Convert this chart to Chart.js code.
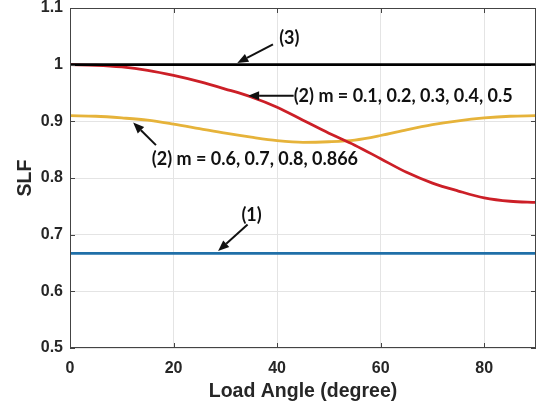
<!DOCTYPE html>
<html>
<head>
<meta charset="utf-8">
<script src="https://cdn.jsdelivr.net/npm/chart.js@4.4.0/dist/chart.umd.min.js"></script>
<style>
  html, body { margin: 0; padding: 0; background: #fff; }
  #wrap { width: 537px; height: 406px; }
</style>
</head>
<body>
<div id="wrap"><canvas id="c"></canvas></div>
<script>
// load angle (degree)
const angles = [0, 5, 10, 15, 20, 25, 30, 35, 40, 45, 50, 55, 60, 65, 70, 75, 80, 85, 90];
// SLF values
const slfCase3 = [1, 1, 1, 1, 1, 1, 1, 1, 1, 1, 1, 1, 1, 1, 1, 1, 1, 1, 1];
const slfLowM = [1.000, 0.999, 0.996, 0.990, 0.981, 0.970, 0.957, 0.943, 0.925, 0.902, 0.879, 0.858, 0.834, 0.810, 0.791, 0.777, 0.765, 0.759, 0.757];
const slfHighM = [0.910, 0.909, 0.906, 0.902, 0.895, 0.887, 0.879, 0.872, 0.866, 0.863, 0.864, 0.867, 0.875, 0.885, 0.894, 0.901, 0.906, 0.909, 0.910];
const slfCase1 = [0.667, 0.667, 0.667, 0.667, 0.667, 0.667, 0.667, 0.667, 0.667, 0.667, 0.667, 0.667, 0.667, 0.667, 0.667, 0.667, 0.667, 0.667, 0.667];

const xTicks = [0, 20, 40, 60, 80];
const yTicks = [0.5, 0.6, 0.7, 0.8, 0.9, 1, 1.1];

// labels with arrows, in data units: text at (tx,ty), arrow from (ax,ay) to tip (bx,by)
const notes = [
  { text: '(3)', tx: 40.4, ty: 1.047, ax: 39.2, ay: 1.036, bx: 32.3, by: 1.003 },
  { text: '(2) m = 0.1, 0.2, 0.3, 0.4, 0.5', tx: 43.2, ty: 0.944, ax: 43.2, ay: 0.945, bx: 34.4, by: 0.945 },
  { text: '(2) m = 0.6, 0.7, 0.8, 0.866', tx: 15.8, ty: 0.833, ax: 16.6, ay: 0.858, bx: 12.2, by: 0.898 },
  { text: '(1)', tx: 33.1, ty: 0.735, ax: 34.3, ay: 0.718, bx: 28.6, by: 0.671 }
];

const pts = arr => angles.map((a, i) => ({ x: a, y: arr[i] }));

const boxPlugin = {
  id: 'box',
  afterDatasetsDraw(chart) {
    const { ctx, chartArea: a, scales: { x, y } } = chart;
    ctx.save();
    ctx.strokeStyle = '#444';
    ctx.lineWidth = 1;
    ctx.strokeRect(a.left + 0.5, a.top + 0.5, a.right - a.left - 1, a.bottom - a.top - 1);
    // inward ticks like matlab
    ctx.beginPath();
    xTicks.forEach(v => {
      const px = Math.round(x.getPixelForValue(v)) + 0.5;
      ctx.moveTo(px, a.bottom); ctx.lineTo(px, a.bottom - 5);
      ctx.moveTo(px, a.top); ctx.lineTo(px, a.top + 5);
    });
    yTicks.forEach(v => {
      const py = Math.round(y.getPixelForValue(v)) + 0.5;
      ctx.moveTo(a.left, py); ctx.lineTo(a.left + 5, py);
      ctx.moveTo(a.right, py); ctx.lineTo(a.right - 5, py);
    });
    ctx.stroke();

    // annotations
    ctx.fillStyle = '#111';
    ctx.strokeStyle = '#111';
    ctx.font = 'bold 18px Lato, "Open Sans", sans-serif';
    ctx.textBaseline = 'middle';
    ctx.textAlign = 'left';
    notes.forEach(n => {
      ctx.fillText(n.text, x.getPixelForValue(n.tx), y.getPixelForValue(n.ty));
      const x0 = x.getPixelForValue(n.ax), y0 = y.getPixelForValue(n.ay);
      const x1 = x.getPixelForValue(n.bx), y1 = y.getPixelForValue(n.by);
      const ang = Math.atan2(y1 - y0, x1 - x0);
      const hl = 11, hw = 4.5;
      const bxp = x1 - hl * Math.cos(ang), byp = y1 - hl * Math.sin(ang);
      ctx.lineWidth = 2;
      ctx.beginPath();
      ctx.moveTo(x0, y0); ctx.lineTo(bxp, byp);
      ctx.stroke();
      ctx.beginPath();
      ctx.moveTo(x1, y1);
      ctx.lineTo(bxp + hw * Math.sin(ang), byp - hw * Math.cos(ang));
      ctx.lineTo(bxp - hw * Math.sin(ang), byp + hw * Math.cos(ang));
      ctx.closePath();
      ctx.fill();
    });
    ctx.restore();
  }
};

const tickFont = { family: '"Liberation Sans", Arial, sans-serif', size: 16, weight: 'bold' };
const titleFont = { family: '"Liberation Sans", Arial, sans-serif', size: 19.5, weight: 'bold' };

new Chart(document.getElementById('c'), {
  type: 'line',
  data: {
    datasets: [
      { data: pts(slfCase3), borderColor: '#000000', borderWidth: 2.8 },
      { data: pts(slfLowM), borderColor: '#cc1f27', borderWidth: 2.8 },
      { data: pts(slfHighM), borderColor: '#e6b33a', borderWidth: 2.8 },
      { data: pts(slfCase1), borderColor: '#1f6fa8', borderWidth: 2.8 }
    ]
  },
  options: {
    responsive: true,
    maintainAspectRatio: false,
    animation: false,
    layout: { padding: { top: 8, right: 1, left: 0, bottom: 0 } },
    elements: {
      point: { radius: 0 },
      line: { cubicInterpolationMode: 'monotone', fill: false }
    },
    plugins: { legend: { display: false }, tooltip: { enabled: false } },
    scales: {
      x: {
        type: 'linear', min: 0, max: 90,
        afterFit: s => { s.height = 58; s.paddingLeft = 0; s.paddingRight = 0; },
        afterBuildTicks: s => { s.ticks = xTicks.map(v => ({ value: v })); },
        ticks: { font: tickFont, color: '#262626', padding: 11, maxRotation: 0 },
        grid: { color: '#e4e4e4', drawTicks: false },
        border: { display: false },
        title: { display: true, text: 'Load Angle (degree)', font: titleFont, color: '#262626', padding: { top: 0, bottom: 3 } }
      },
      y: {
        min: 0.5, max: 1.1,
        afterFit: s => { s.width = 70; s.paddingTop = 0; s.paddingBottom = 0; },
        afterBuildTicks: s => { s.ticks = yTicks.map(v => ({ value: v })); },
        ticks: { font: tickFont, color: '#262626', padding: 7, callback: v => String(Number(v.toFixed(1))) },
        grid: { color: '#e4e4e4', drawTicks: false },
        border: { display: false },
        title: { display: true, text: 'SLF', font: titleFont, color: '#262626', padding: { top: 14, bottom: 0 } }
      }
    }
  },
  plugins: [boxPlugin]
});
</script>
</body>
</html>
